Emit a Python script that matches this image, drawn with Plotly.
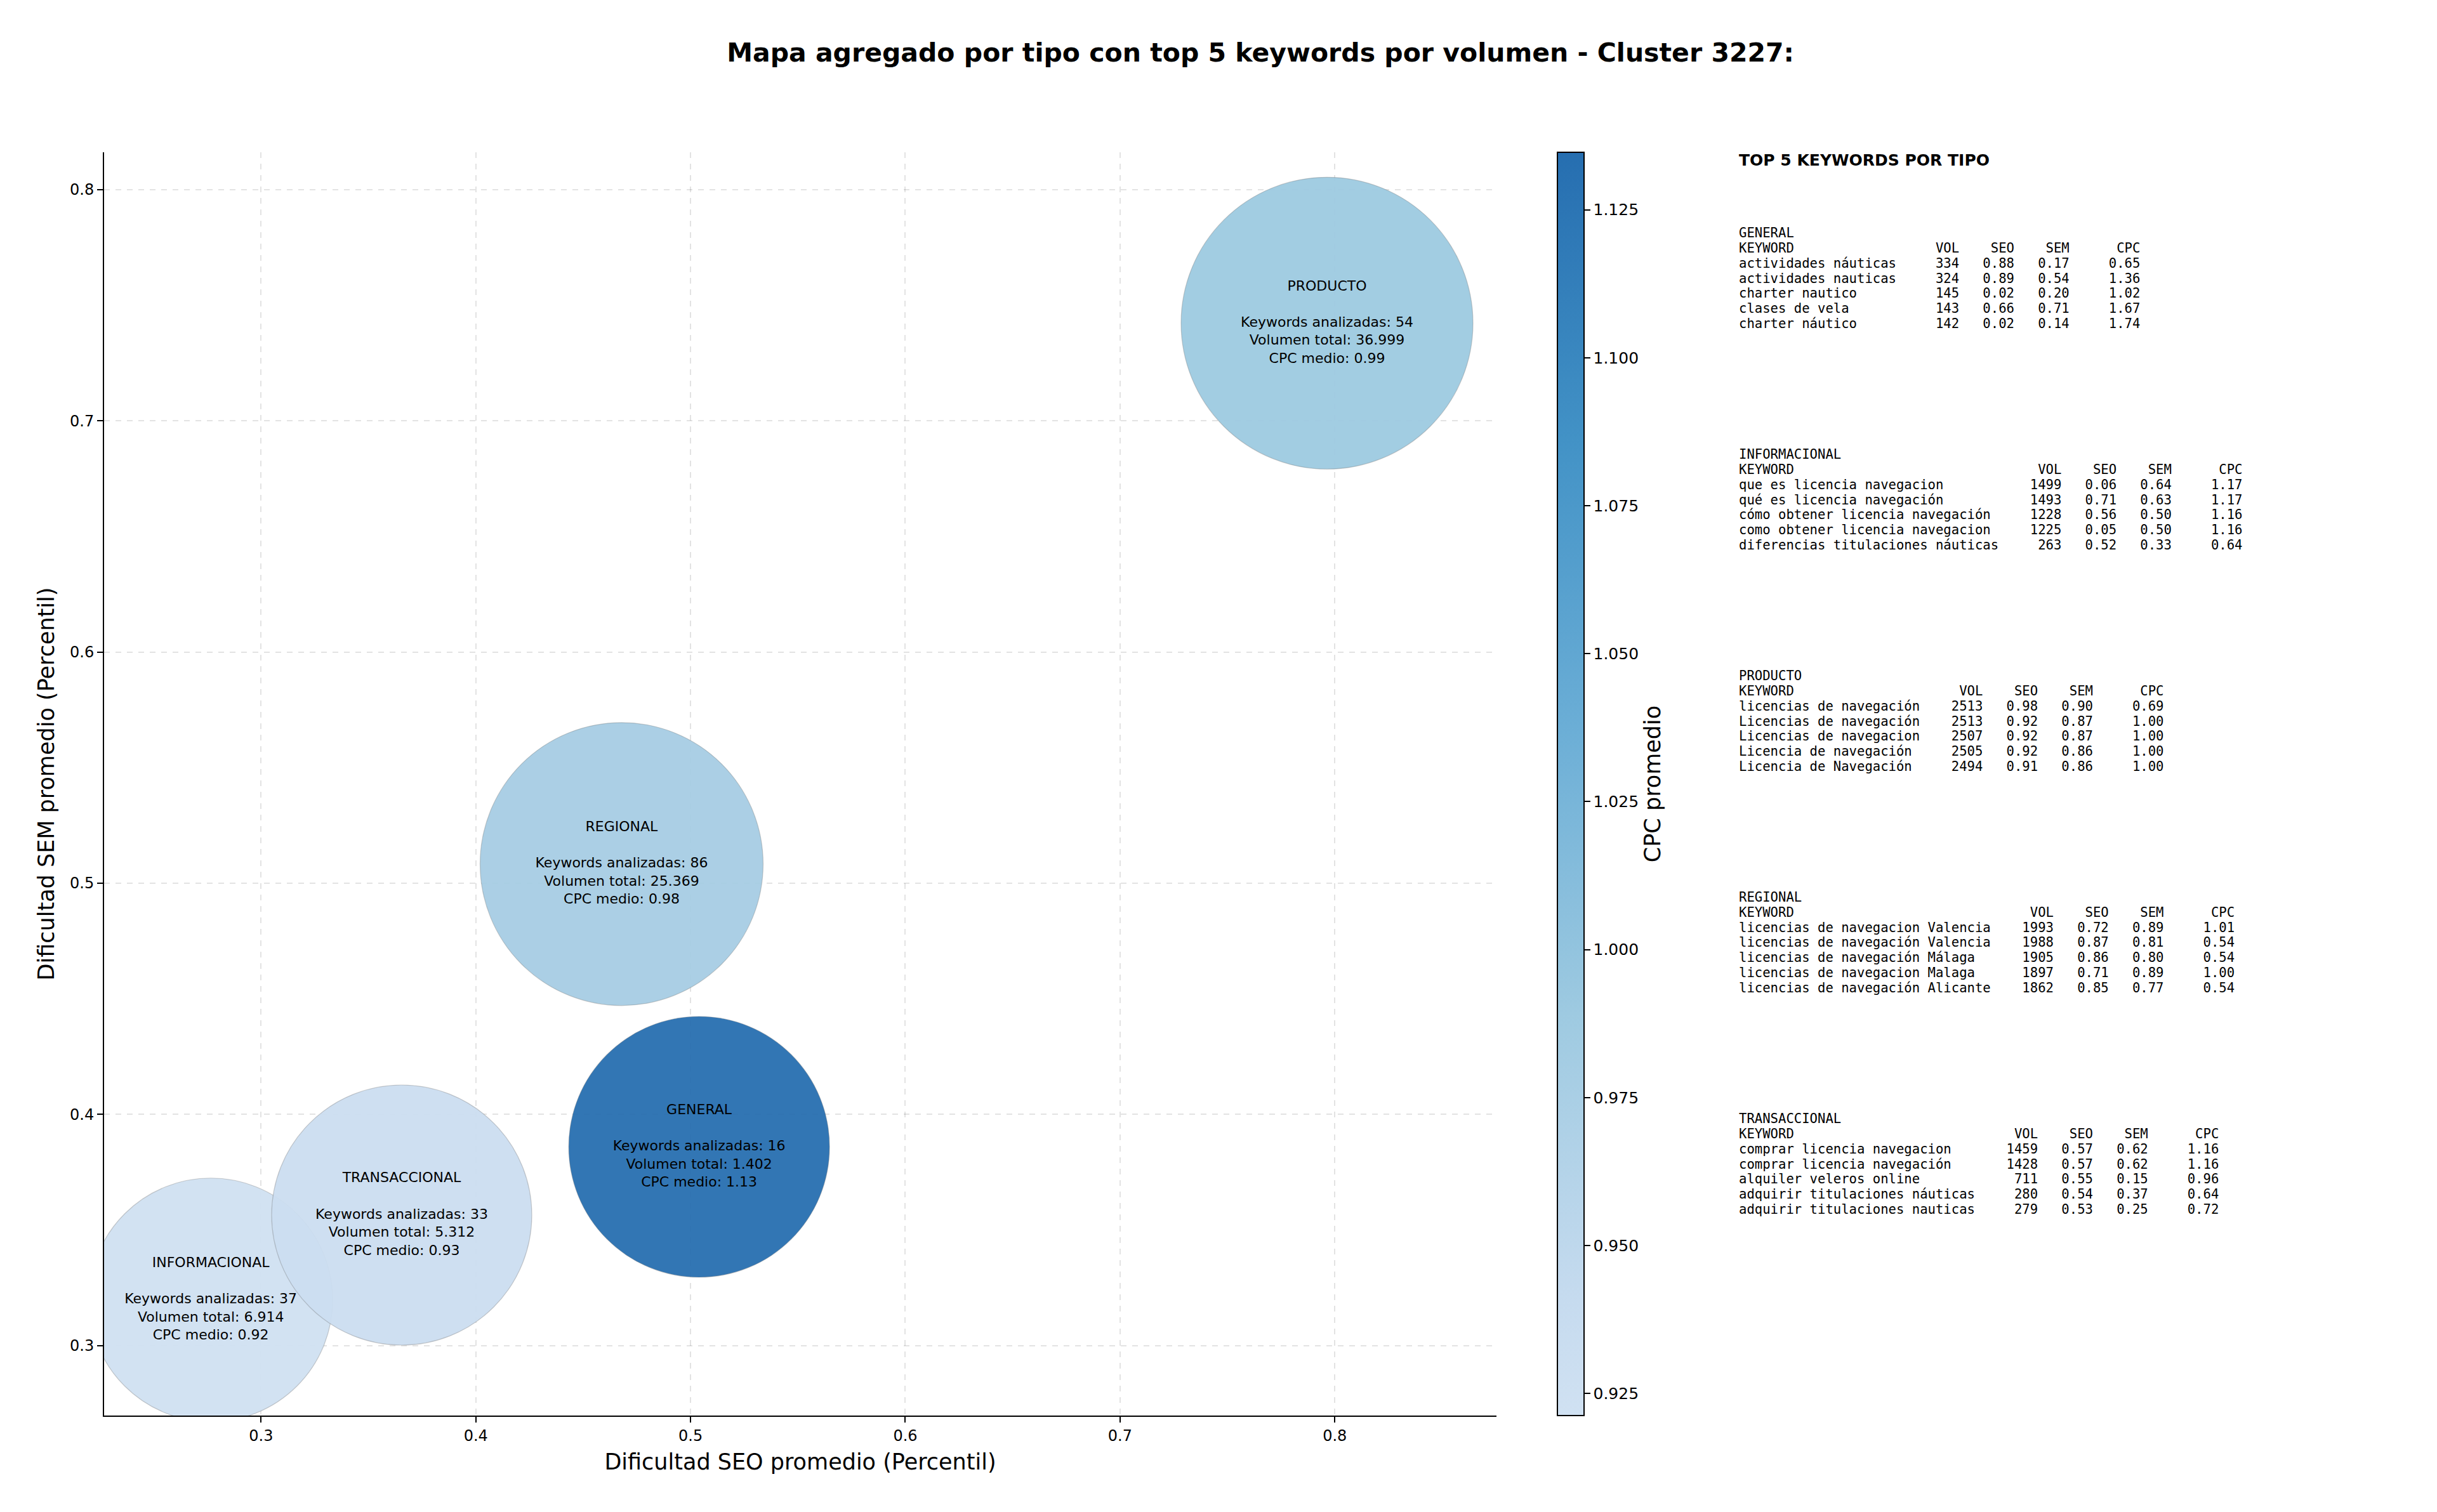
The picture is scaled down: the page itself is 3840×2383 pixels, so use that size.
import plotly.graph_objects as go

# ---------------- data ----------------
tipos = ["GENERAL", "INFORMACIONAL", "PRODUCTO", "REGIONAL", "TRANSACCIONAL"]
seo_medio = [0.504, 0.2766, 0.7964, 0.4679, 0.3655]
sem_medio = [0.386, 0.3198, 0.7422, 0.5083, 0.3565]
cpc_medio = [1.1347, 0.9213, 0.990, 0.980, 0.930]
keywords_analizadas = [16, 37, 54, 86, 33]
volumen_total = [1402, 6914, 36999, 25369, 5312]

top5_general = [
    ("actividades náuticas", 334, 0.88, 0.17, 0.65),
    ("actividades nauticas", 324, 0.89, 0.54, 1.36),
    ("charter nautico", 145, 0.02, 0.20, 1.02),
    ("clases de vela", 143, 0.66, 0.71, 1.67),
    ("charter náutico", 142, 0.02, 0.14, 1.74),
]
top5_informacional = [
    ("que es licencia navegacion", 1499, 0.06, 0.64, 1.17),
    ("qué es licencia navegación", 1493, 0.71, 0.63, 1.17),
    ("cómo obtener licencia navegación", 1228, 0.56, 0.50, 1.16),
    ("como obtener licencia navegacion", 1225, 0.05, 0.50, 1.16),
    ("diferencias titulaciones náuticas", 263, 0.52, 0.33, 0.64),
]
top5_producto = [
    ("licencias de navegación", 2513, 0.98, 0.90, 0.69),
    ("Licencias de navegación", 2513, 0.92, 0.87, 1.00),
    ("Licencias de navegacion", 2507, 0.92, 0.87, 1.00),
    ("Licencia de navegación", 2505, 0.92, 0.86, 1.00),
    ("Licencia de Navegación", 2494, 0.91, 0.86, 1.00),
]
top5_regional = [
    ("licencias de navegacion Valencia", 1993, 0.72, 0.89, 1.01),
    ("licencias de navegación Valencia", 1988, 0.87, 0.81, 0.54),
    ("licencias de navegación Málaga", 1905, 0.86, 0.80, 0.54),
    ("licencias de navegacion Malaga", 1897, 0.71, 0.89, 1.00),
    ("licencias de navegación Alicante", 1862, 0.85, 0.77, 0.54),
]
top5_transaccional = [
    ("comprar licencia navegacion", 1459, 0.57, 0.62, 1.16),
    ("comprar licencia navegación", 1428, 0.57, 0.62, 1.16),
    ("alquiler veleros online", 711, 0.55, 0.15, 0.96),
    ("adquirir titulaciones náuticas", 280, 0.54, 0.37, 0.64),
    ("adquirir titulaciones nauticas", 279, 0.53, 0.25, 0.72),
]
top5_por_tipo = [top5_general, top5_informacional, top5_producto,
                 top5_regional, top5_transaccional]

x_ticks = [0.3, 0.4, 0.5, 0.6, 0.7, 0.8]
y_ticks = [0.3, 0.4, 0.5, 0.6, 0.7, 0.8]
cbar_ticks = [0.925, 0.950, 0.975, 1.000, 1.025, 1.050, 1.075, 1.100, 1.125]

# ---------------- style ----------------
bubble_diam_px = [411, 384, 460, 446, 410]
W, H = 3840, 2383
PL, PR, PT, PB = 164, 2358, 240, 2231   # plot area in px
FONT = "DejaVu Sans"
MONO = "DejaVu Sans Mono"

colorscale = [
    [0.0, "rgb(208,225,242)"],
    [0.0909, "rgb(198,219,239)"],
    [0.318, "rgb(158,202,225)"],
    [0.545, "rgb(107,174,214)"],
    [0.773, "rgb(66,146,198)"],
    [1.0, "rgb(38,110,176)"],
]


def fmt_miles(v):
    return f"{v:,}".replace(",", ".")


bubble_text = [
    f"{t}<br><br>Keywords analizadas: {k}<br>Volumen total: {fmt_miles(v)}<br>CPC medio: {c:.2f}"
    for t, k, v, c in zip(tipos, keywords_analizadas, volumen_total, cpc_medio)
]

fig = go.Figure()
fig.add_trace(go.Scatter(
    x=seo_medio, y=sem_medio, mode="markers+text",
    text=bubble_text, textposition="middle center",
    textfont=dict(family=FONT, size=22, color="black"),
    marker=dict(
        size=bubble_diam_px, sizemode="diameter",
        color=cpc_medio, colorscale=colorscale, opacity=0.94,
        line=dict(width=1.2, color="rgba(110,110,110,0.35)"),
        colorbar=dict(
            x=(2454 - PL) / (PR - PL), xanchor="left", xpad=0,
            y=0.5, yanchor="middle", ypad=0, len=1, lenmode="fraction",
            thickness=42, outlinewidth=2, outlinecolor="black",
            ticks="outside", ticklen=9, tickwidth=2, tickcolor="black",
            tickvals=cbar_ticks, ticktext=[f"{v:.3f}" for v in cbar_ticks],
            tickfont=dict(family=FONT, size=25, color="black"),
            title=dict(text="CPC promedio", side="right",
                       font=dict(family=FONT, size=35, color="black")),
        ),
    ),
    cliponaxis=True, showlegend=False, hoverinfo="skip",
))


def px_to_paper_x(px):
    return (px - PL) / (PR - PL)


def px_to_paper_y(py):
    return (PB - py) / (PB - PT)


annotations = []
text_x = px_to_paper_x(2738)
annotations.append(dict(
    x=text_x, y=px_to_paper_y(252), xref="paper", yref="paper",
    xanchor="left", yanchor="middle", showarrow=False,
    text="TOP 5 KEYWORDS POR TIPO",
    font=dict(family=FONT, size=25, color="black", weight="bold"),
))

block_top = 367.4
block_step = 349.0
line_step = 23.7
for b, (tipo, rows) in enumerate(zip(tipos, top5_por_tipo)):
    w = max(len(r[0]) for r in rows) + 3
    lines = [tipo, f"{'KEYWORD':<{w}}{'VOL':>5}{'SEO':>7}{'SEM':>7}{'CPC':>9}"]
    for kw, vol, seo, sem, cpc in rows:
        lines.append(f"{kw:<{w}}{vol:>5}{seo:>7.2f}{sem:>7.2f}{cpc:>9.2f}")
    for i, ln in enumerate(lines):
        annotations.append(dict(
            x=text_x, y=px_to_paper_y(block_top + b * block_step + i * line_step),
            xref="paper", yref="paper", xanchor="left", yanchor="middle",
            showarrow=False, text=ln.replace(" ", "\u00a0"),
            font=dict(family=MONO, size=20.6, color="black"),
        ))

axis_common = dict(
    showline=True, linecolor="black", linewidth=2, mirror=False,
    ticks="outside", ticklen=9, tickwidth=2, tickcolor="black",
    tickfont=dict(family=FONT, size=24, color="black"),
    showgrid=True, gridcolor="rgba(0,0,0,0.11)", griddash="dash", gridwidth=1.5,
    zeroline=False, automargin=False,
)

fig.update_layout(
    width=W, height=H,
    margin=dict(l=PL, r=W - PR, t=PT, b=H - PB),
    paper_bgcolor="white", plot_bgcolor="white",
    title=dict(
        text="Mapa agregado por tipo con top 5 keywords por volumen - Cluster 3227:",
        x=0.5172, xanchor="center", y=1 - 83 / H, yanchor="middle", yref="container",
        font=dict(family=FONT, size=41, color="black", weight="bold"),
    ),
    xaxis=dict(
        range=[0.2269, 0.8753], tickvals=x_ticks,
        ticktext=[f"{v:.1f}" for v in x_ticks],
        title=dict(text="Dificultad SEO promedio (Percentil)", standoff=16,
                   font=dict(family=FONT, size=35, color="black")),
        **axis_common,
    ),
    yaxis=dict(
        range=[0.2698, 0.8161], tickvals=y_ticks,
        ticktext=[f"{v:.1f}" for v in y_ticks],
        title=dict(text="Dificultad SEM promedio (Percentil)", standoff=14,
                   font=dict(family=FONT, size=35, color="black")),
        **axis_common,
    ),
    annotations=annotations,
)

fig.write_html("out.html")
